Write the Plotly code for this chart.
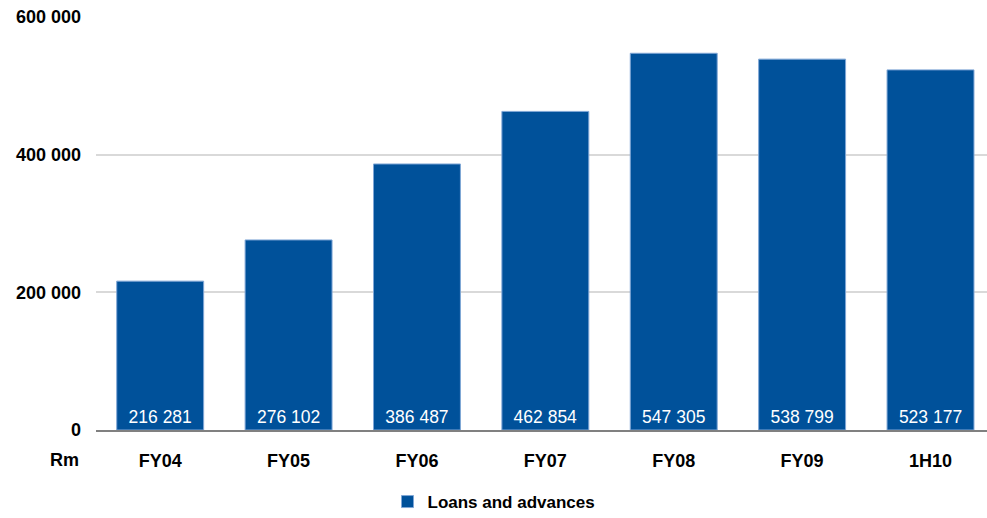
import plotly.graph_objects as go

# Loans and advances by reporting period (Rm)
periods = ["FY04", "FY05", "FY06", "FY07", "FY08", "FY09", "1H10"]
loans_and_advances = [216281, 276102, 386487, 462854, 547305, 538799, 523177]
y_ticks = [0, 200000, 400000, 600000]

bar_color = "#00519A"
font_family = "Liberation Sans, Arial, sans-serif"

fig = go.Figure()
fig.add_trace(go.Bar(
    x=periods,
    y=loans_and_advances,
    name="Loans and advances",
    marker=dict(color=bar_color, line=dict(color="#7FA6D6", width=1)),
    texttemplate="%{y:,d}",
    textposition="inside",
    insidetextanchor="start",
    textangle=0,
    insidetextfont=dict(color="white", size=17.5, family=font_family),
    cliponaxis=False,
))

fig.update_layout(
    width=987,
    height=518,
    margin=dict(l=96, r=0, t=17, b=88),
    paper_bgcolor="white",
    plot_bgcolor="white",
    separators=". ",
    bargap=0.323,
    font=dict(family=font_family, color="black"),
    showlegend=True,
    legend=dict(
        orientation="h",
        xref="container", yref="container",
        x=494 / 987, xanchor="center",
        y=1 - 502 / 518, yanchor="middle",
        font=dict(size=17, family=font_family, weight="bold"),
        itemwidth=30,
    ),
    xaxis=dict(
        range=[-0.5, 6.44],
        showgrid=False,
        showline=True,
        linecolor="#808080",
        linewidth=2,
        ticks="",
        ticklabelstandoff=13,
        tickfont=dict(size=18, weight="bold", color="black"),
    ),
    yaxis=dict(
        range=[0, 600000],
        tickvals=y_ticks,
        tickformat=",d",
        showgrid=True,
        gridcolor="#D9D9D9",
        gridwidth=2,
        zeroline=False,
        showline=False,
        ticks="",
        ticklabelstandoff=14,
        tickfont=dict(size=18, weight="bold", color="black"),
    ),
    annotations=[dict(
        text="<b>Rm</b>",
        xref="paper", yref="paper",
        x=0, y=0,
        xanchor="right", yanchor="middle",
        xshift=-15, yshift=-30,
        showarrow=False,
        font=dict(size=18, color="black"),
    )],
)

fig.write_html("out.html")
